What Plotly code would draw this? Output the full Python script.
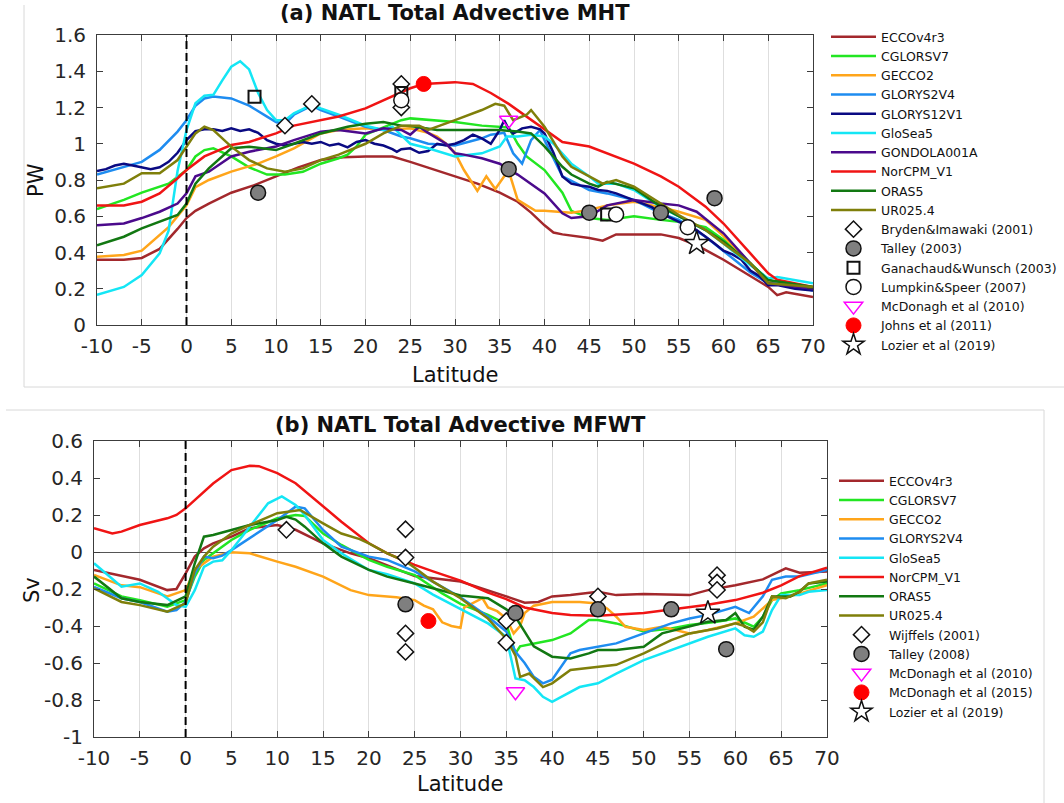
import plotly.graph_objects as go

# ---------------- Panel (a): MHT (PW) ----------------
ECCO_A_LAT = [-10,-7,-5,-3,-1,0,1,2.5,5,7.5,10,12.5,15,17.5,20,23,25,27.5,30,32.5,35,37,38.5,40,41,42,45,46.5,48,50,53,55,57,60,63,65,66,67,70]
ECCO_A = [0.36,0.36,0.37,0.42,0.53,0.59,0.63,0.67,0.73,0.77,0.82,0.87,0.91,0.925,0.93,0.93,0.90,0.86,0.82,0.78,0.73,0.68,0.62,0.55,0.51,0.50,0.48,0.465,0.50,0.50,0.50,0.48,0.44,0.36,0.27,0.21,0.165,0.18,0.155]

CGLO_A_LAT = [-10,-7,-5,-2,0,1,2,3,5,7,9,11,13,15,17,18,19,20,22,24,25,27.5,30,33,35,36,37,38,40,42,43,45,47,50,53,55,58,60,63,65,66,70]
CGLO_A = [0.64,0.69,0.73,0.78,0.855,0.93,0.965,0.975,0.93,0.87,0.83,0.83,0.845,0.89,0.92,0.94,0.985,1.05,1.09,1.13,1.14,1.13,1.12,1.10,1.095,1.09,1.0,0.93,0.855,0.73,0.63,0.59,0.58,0.60,0.58,0.57,0.54,0.47,0.34,0.25,0.23,0.21]

GECCO_A_LAT = [-10,-7,-5,-2,0,1,2.5,5,8,10,12,15,17,20,22,25,27,28,29,30,31,32.5,33.5,34.5,35.5,36,37,39,40,43,45,47,50,53,55,58,60,63,65,70]
GECCO_A = [0.377,0.386,0.41,0.54,0.66,0.76,0.80,0.846,0.89,0.93,0.975,1.057,1.076,1.085,1.076,1.085,1.06,1.04,1.0,0.95,0.855,0.74,0.82,0.75,0.82,0.85,0.69,0.63,0.63,0.62,0.635,0.66,0.68,0.65,0.625,0.58,0.49,0.34,0.24,0.20]

G2V4_A_LAT = [-10,-7,-5,-3,-1,0,1,2,3,5,7,9,10,11,12,14,15,17,20,22,24,25,27,30,33,34,35,35.5,36.5,37.5,38.5,39.5,40,42,44,45,47,50,53,55,58,60,63,65,66,70]
G2V4_A = [0.83,0.87,0.90,0.966,1.067,1.13,1.21,1.25,1.26,1.25,1.21,1.15,1.12,1.11,1.16,1.21,1.186,1.15,1.094,1.076,1.04,1.03,1.0,0.99,1.03,1.05,1.057,1.06,0.947,0.89,1.02,1.076,1.02,0.82,0.77,0.745,0.726,0.69,0.616,0.58,0.487,0.41,0.29,0.23,0.235,0.19]

G12_A_LAT = [-10,-9,-8,-7,-6,-5,-4,-3,-2,-1,0,1,2,3,4,5,6,7,8,9,10,11,12,13,14,15,16,17,18,19,20,21,22,23,23.5,24,25,26,27,28,29,30,31,32,33,34,35,35.5,36,36.5,37,37.5,38.5,39.5,40,41,42,43,44,45,46,47,48,50,52,53,55,57,59,60,61,62,63,64,65,66,68,70]
G12_A = [0.85,0.86,0.88,0.89,0.88,0.87,0.86,0.87,0.90,0.95,1.02,1.07,1.08,1.08,1.07,1.085,1.07,1.08,1.06,1.02,1.0,0.99,1.0,1.01,1.0,1.01,0.99,1.0,0.98,1.01,1.02,1.0,0.99,0.97,0.955,0.97,0.975,0.95,0.96,1.0,0.99,1.0,1.02,1.05,1.03,1.0,1.076,1.13,1.08,1.057,1.07,1.085,1.094,1.08,1.057,0.95,0.82,0.78,0.77,0.763,0.745,0.74,0.726,0.69,0.65,0.616,0.57,0.524,0.45,0.41,0.39,0.36,0.30,0.27,0.22,0.22,0.20,0.19]

GLOSEA_A_LAT = [-10,-7,-5,-3,-2,-1,0,1,2,3,4,5,6,7,8,9,10,11,12,14,15,17,20,22,23,25,27,30,33,35,35.8,37,38.5,40,41,43,45,46,48,50,53,55,58,60,63,65,66,70]
GLOSEA_A = [0.166,0.21,0.276,0.395,0.52,0.85,1.076,1.223,1.265,1.27,1.35,1.425,1.455,1.41,1.28,1.186,1.13,1.13,1.168,1.214,1.195,1.16,1.10,1.076,1.094,1.0,0.975,0.93,0.947,0.985,1.04,1.04,1.05,1.04,1.0,0.89,0.82,0.78,0.78,0.745,0.65,0.60,0.524,0.45,0.33,0.257,0.265,0.23]

GOND_A_LAT = [-10,-7,-5,-3,-1,0,1,2.5,5,7,10,12,15,17,20,22,24,25,26,27,29,30,31,33,35,37,40,42,43,45,47,50,53,55,57,60,63,65,70]
GOND_A = [0.55,0.56,0.59,0.625,0.67,0.726,0.82,0.846,0.93,0.956,0.985,1.02,1.067,1.076,1.057,1.085,1.076,1.05,1.094,1.06,1.0,0.947,0.94,0.92,0.89,0.83,0.726,0.616,0.59,0.60,0.66,0.69,0.67,0.66,0.625,0.506,0.34,0.23,0.20]

NOR_A_LAT = [-10,-7,-5,-3,-1,0,2,5,7,10,12,15,17,20,22,24,25,26.5,28,30,32,34,36,38,40,42,45,48,50,53,55,58,60,63,65,66,70]
NOR_A = [0.66,0.66,0.68,0.726,0.81,0.855,0.93,0.993,1.01,1.057,1.10,1.13,1.15,1.195,1.24,1.287,1.306,1.33,1.335,1.34,1.33,1.28,1.22,1.15,1.076,1.01,0.985,0.93,0.89,0.82,0.763,0.653,0.56,0.395,0.285,0.25,0.21]

ORAS_A_LAT = [-10,-7,-5,-3,-1,0,1,2.5,5,7,10,12,15,18,20,22,24,25,28,30,33,35,37,38.5,40,42,43,45,46,47,50,53,55,58,60,63,65,70]
ORAS_A = [0.44,0.487,0.533,0.57,0.607,0.67,0.78,0.864,0.975,0.984,0.965,1.0,1.057,1.094,1.11,1.12,1.10,1.098,1.076,1.076,1.076,1.076,1.067,1.057,0.985,0.873,0.83,0.78,0.763,0.79,0.754,0.653,0.60,0.524,0.46,0.34,0.248,0.21]

UR_A_LAT = [-10,-7,-5,-3,-1,0,1,2,3,5,7,9,11,13,15,17,20,22,24,26,27,30,33,34.5,35.5,36.5,38,38.5,40,42,43,45,46.5,48,50,53,55,58,60,63,65,70]
UR_A = [0.754,0.78,0.837,0.837,0.91,0.984,1.057,1.094,1.076,0.984,0.91,0.864,0.846,0.864,0.91,0.94,1.0,1.057,1.10,1.10,1.076,1.13,1.186,1.22,1.21,1.13,1.16,1.186,1.094,0.93,0.873,0.82,0.78,0.80,0.763,0.67,0.607,0.524,0.45,0.34,0.23,0.21]

# observations (a)
BRYDEN_LAT = [11, 14, 24, 24]
BRYDEN_PW = [1.10, 1.22, 1.33, 1.20]
TALLEY03_LAT = [8, 36, 45, 53, 59]
TALLEY03_PW = [0.73, 0.86, 0.62, 0.62, 0.70]
GANA_LAT = [7.6, 24, 47]
GANA_PW = [1.26, 1.28, 0.61]
LUMPKIN_LAT = [24, 48, 56]
LUMPKIN_PW = [1.24, 0.61, 0.54]
MCD10_A_LAT = [36]
MCD10_A_PW = [1.13]
JOHNS_LAT = [26.5]
JOHNS_PW = [1.33]
LOZIER_A_LAT = [57]
LOZIER_A_PW = [0.45]

# ---------------- Panel (b): MFWT (Sv) ----------------
ECCO_B_LAT = [-10,-7,-5,-2,-1,0,1,2,3,5,7,10,12,15,18,20,25,30,33,35,37,38.5,40,42,45,47,50,55,57,60,63,65.5,67,70]
ECCO_B = [-0.097,-0.13,-0.15,-0.206,-0.2,-0.115,-0.025,0.02,0.047,0.083,0.128,0.146,0.12,0.047,-0.007,-0.034,-0.13,-0.16,-0.206,-0.24,-0.274,-0.27,-0.24,-0.233,-0.215,-0.233,-0.227,-0.233,-0.206,-0.18,-0.148,-0.088,-0.112,-0.106]

CGLO_B_LAT = [-10,-7,-5,-2,0,1,2,3,5,7,10,12,13,15,17,20,22,25,28,30,33,35,36,36.5,38,40,42,44,45,47,50,53,55,58,60,61,62,63,64,65,67,70]
CGLO_B = [-0.17,-0.24,-0.26,-0.296,-0.26,-0.133,-0.043,-0.007,0.065,0.12,0.182,0.2,0.195,0.10,0.038,-0.043,-0.08,-0.125,-0.224,-0.28,-0.34,-0.39,-0.548,-0.51,-0.494,-0.476,-0.44,-0.368,-0.368,-0.386,-0.43,-0.413,-0.395,-0.377,-0.359,-0.38,-0.404,-0.35,-0.26,-0.224,-0.206,-0.17]

GECCO_B_LAT = [-10,-7,-5,-2,0,1,2,3,5,7,10,12,15,18,20,22,23,25,26,27,28,29,30,30.4,31.5,32.4,33,34,35,35.8,36.5,37,38,40,43,45,46,47,48,50,52,55,57,60,62,64,66,70]
GECCO_B = [-0.124,-0.18,-0.19,-0.24,-0.206,-0.097,-0.061,-0.025,-0.002,-0.007,-0.052,-0.08,-0.133,-0.206,-0.233,-0.24,-0.245,-0.26,-0.29,-0.31,-0.38,-0.40,-0.41,-0.30,-0.27,-0.25,-0.30,-0.32,-0.36,-0.44,-0.40,-0.33,-0.29,-0.27,-0.27,-0.278,-0.305,-0.35,-0.404,-0.422,-0.404,-0.44,-0.422,-0.386,-0.35,-0.26,-0.24,-0.18]

G2V4_B_LAT = [-10,-7,-5,-2,-1,0,1,2,3,4,5,7,10,12,13,15,17,20,22,25,27,30,33,35,36,37,38,39,40,41,42,43,45,47,50,53,55,57,60,61.5,63,64,65.5,67,70]
G2V4_B = [-0.188,-0.25,-0.27,-0.323,-0.314,-0.27,-0.115,-0.025,-0.034,-0.02,0.01,0.074,0.173,0.245,0.236,0.119,0.029,-0.025,-0.043,-0.105,-0.16,-0.245,-0.35,-0.43,-0.54,-0.60,-0.675,-0.71,-0.69,-0.62,-0.548,-0.53,-0.512,-0.494,-0.44,-0.386,-0.359,-0.34,-0.296,-0.33,-0.24,-0.15,-0.133,-0.133,-0.097]

GLOSEA_B_LAT = [-10,-7,-5,-3,-1,0,1,2,3,4,5,7,9,10.5,12,13,15,17,20,22,25,27,30,33,35,36,37,38,39,40,41,43,45,47,50,53,55,57,60,61,62,63,64,65,67,68,70]
GLOSEA_B = [-0.061,-0.188,-0.17,-0.215,-0.287,-0.296,-0.206,-0.08,-0.052,-0.045,0.01,0.137,0.263,0.30,0.254,0.2,0.065,-0.007,-0.097,-0.12,-0.17,-0.23,-0.31,-0.386,-0.458,-0.684,-0.693,-0.73,-0.783,-0.81,-0.783,-0.73,-0.71,-0.657,-0.584,-0.53,-0.494,-0.458,-0.413,-0.45,-0.458,-0.43,-0.314,-0.233,-0.233,-0.215,-0.206]

NOR_B_LAT = [-10,-8,-7,-5,-2,-1,0,1,3,5,7,8,10,12,15,17,20,22,24,25,27,30,33,35,37,40,42,45,50,53,55,57,60,63,65,67,70]
NOR_B = [0.128,0.10,0.11,0.146,0.182,0.2,0.236,0.28,0.37,0.443,0.466,0.464,0.426,0.372,0.245,0.164,0.047,-0.007,-0.05,-0.07,-0.105,-0.155,-0.22,-0.255,-0.30,-0.33,-0.34,-0.345,-0.33,-0.31,-0.30,-0.285,-0.26,-0.22,-0.18,-0.13,-0.085]

ORAS_B_LAT = [-10,-7,-5,-2,0,1,2,3,5,7,10,11,12,13,15,17,20,22,25,27,30,33,35,36,37,38,40,42,44,45,47,50,52,55,57,59,60,61,62,63,64,66,67,68,70]
ORAS_B = [-0.133,-0.25,-0.27,-0.287,-0.24,-0.061,0.083,0.092,0.119,0.146,0.173,0.19,0.175,0.137,0.047,-0.025,-0.097,-0.133,-0.17,-0.197,-0.235,-0.25,-0.31,-0.35,-0.43,-0.51,-0.566,-0.575,-0.548,-0.53,-0.53,-0.512,-0.44,-0.404,-0.377,-0.368,-0.33,-0.404,-0.42,-0.35,-0.24,-0.24,-0.215,-0.17,-0.16]

UR_B_LAT = [-10,-7,-5,-2,0,1,2,3,5,7,10,12.5,15,17,19,20,22,24,25,27,30,33,35,36,36.5,37.5,39,40,42,45,47,50,53,55,58,60,61,62,63,64,65.5,67,68,70]
UR_B = [-0.197,-0.27,-0.287,-0.323,-0.278,-0.097,-0.025,0.029,0.10,0.146,0.21,0.227,0.155,0.10,0.07,0.047,-0.007,-0.05,-0.085,-0.16,-0.25,-0.36,-0.47,-0.56,-0.675,-0.657,-0.73,-0.71,-0.638,-0.62,-0.61,-0.548,-0.476,-0.44,-0.413,-0.386,-0.40,-0.43,-0.38,-0.24,-0.25,-0.215,-0.17,-0.15]

# observations (b)
WIJ_LAT = [11, 24, 24, 24, 24, 35, 35, 45, 58, 58, 58]
WIJ_SV = [0.12, 0.123, -0.03, -0.44, -0.54, -0.373, -0.49, -0.24, -0.125, -0.165, -0.205]
TALLEY08_LAT = [24, 36, 45, 53, 59]
TALLEY08_SV = [-0.283, -0.33, -0.31, -0.31, -0.525]
MCD10_B_LAT = [36]
MCD10_B_SV = [-0.755]
MCD15_LAT = [26.5]
MCD15_SV = [-0.373]
LOZIER_B_LAT = [57]
LOZIER_B_SV = [-0.33]

X_TICKS = list(range(-10, 71, 5))
X_TICKTEXT = [str(v) for v in X_TICKS]
YA_TICKS = [0, 0.2, 0.4, 0.6, 0.8, 1.0, 1.2, 1.4, 1.6]
YA_TICKTEXT = ["0", "0.2", "0.4", "0.6", "0.8", "1", "1.2", "1.4", "1.6"]
YB_TICKS = [-1, -0.8, -0.6, -0.4, -0.2, 0, 0.2, 0.4, 0.6]
YB_TICKTEXT = ["-1", "-0.8", "-0.6", "-0.4", "-0.2", "0", "0.2", "0.4", "0.6"]

COLORS = {
    "ECCOv4r3": "#A3282C",
    "CGLORSV7": "#22E622",
    "GECCO2": "#FFA51A",
    "GLORYS2V4": "#1E8CF0",
    "GLORYS12V1": "#0A0A82",
    "GloSea5": "#14E6F5",
    "GONDOLA001A": "#4B0A8C",
    "NorCPM_V1": "#F01414",
    "ORAS5": "#127812",
    "UR025.4": "#7F7F0A",
}

W, H = 1064, 803
FONT = "DejaVu Sans"


def px2x(p):
    return p / W


def px2y(p):
    return 1 - p / H


fig = go.Figure()

lines_a = [
    ("ECCOv4r3", ECCO_A_LAT, ECCO_A),
    ("CGLORSV7", CGLO_A_LAT, CGLO_A),
    ("GECCO2", GECCO_A_LAT, GECCO_A),
    ("GLORYS2V4", G2V4_A_LAT, G2V4_A),
    ("GLORYS12V1", G12_A_LAT, G12_A),
    ("GloSea5", GLOSEA_A_LAT, GLOSEA_A),
    ("GONDOLA001A", GOND_A_LAT, GOND_A),
    ("NorCPM_V1", NOR_A_LAT, NOR_A),
    ("ORAS5", ORAS_A_LAT, ORAS_A),
    ("UR025.4", UR_A_LAT, UR_A),
]
for name, lat, val in lines_a:
    fig.add_trace(go.Scatter(x=lat, y=val, mode="lines", name=name,
                             line=dict(color=COLORS[name], width=2.5),
                             xaxis="x", yaxis="y", legend="legend"))

lines_b = [
    ("ECCOv4r3", ECCO_B_LAT, ECCO_B),
    ("CGLORSV7", CGLO_B_LAT, CGLO_B),
    ("GECCO2", GECCO_B_LAT, GECCO_B),
    ("GLORYS2V4", G2V4_B_LAT, G2V4_B),
    ("GloSea5", GLOSEA_B_LAT, GLOSEA_B),
    ("NorCPM_V1", NOR_B_LAT, NOR_B),
    ("ORAS5", ORAS_B_LAT, ORAS_B),
    ("UR025.4", UR_B_LAT, UR_B),
]
for name, lat, val in lines_b:
    fig.add_trace(go.Scatter(x=lat, y=val, mode="lines", name=name,
                             line=dict(color=COLORS[name], width=2.5),
                             xaxis="x2", yaxis="y2", legend="legend2"))

BLK = dict(color="#111111", width=1.5)
STY = {
    "diamond": dict(symbol="diamond", size=12.5, color="white", line=BLK),
    "gray": dict(symbol="circle", size=15, color="#7F7F7F", line=BLK),
    "square": dict(symbol="square-open", size=12, color="#111111", line=dict(width=2)),
    "circle": dict(symbol="circle", size=15, color="white", line=BLK),
    "tri": dict(symbol="triangle-down-open", size=16, color="#FF00FF", line=dict(width=1.5)),
    "red": dict(symbol="circle", size=15, color="#FF0000", line=dict(color="#FF0000", width=1)),
    "star": dict(symbol="star", size=18, color="white", line=BLK),
}

obs_a = [
    ("Bryden&Imawaki (2001)", BRYDEN_LAT, BRYDEN_PW, "diamond"),
    ("Talley (2003)", TALLEY03_LAT, TALLEY03_PW, "gray"),
    ("Ganachaud&Wunsch (2003)", GANA_LAT, GANA_PW, "square"),
    ("Lumpkin&Speer (2007)", LUMPKIN_LAT, LUMPKIN_PW, "circle"),
    ("McDonagh et al (2010)", MCD10_A_LAT, MCD10_A_PW, "tri"),
    ("Johns et al (2011)", JOHNS_LAT, JOHNS_PW, "red"),
    ("Lozier et al (2019)", LOZIER_A_LAT, LOZIER_A_PW, "star"),
]
for name, lat, val, s in obs_a:
    fig.add_trace(go.Scatter(x=lat, y=val, mode="markers", name=name, marker=STY[s],
                             xaxis="x", yaxis="y", legend="legend"))

obs_b = [
    ("Wijffels (2001)", WIJ_LAT, WIJ_SV, "diamond"),
    ("Talley (2008)", TALLEY08_LAT, TALLEY08_SV, "gray"),
    ("McDonagh et al (2010)", MCD10_B_LAT, MCD10_B_SV, "tri"),
    ("McDonagh et al (2015)", MCD15_LAT, MCD15_SV, "red"),
    ("Lozier et al (2019)", LOZIER_B_LAT, LOZIER_B_SV, "star"),
]
for name, lat, val, s in obs_b:
    fig.add_trace(go.Scatter(x=lat, y=val, mode="markers", name=name, marker=STY[s],
                             xaxis="x2", yaxis="y2", legend="legend2"))

axis_common = dict(showline=True, linecolor="#3C3C3C", linewidth=1, mirror="ticks",
                   ticks="inside", ticklen=6, tickcolor="#3C3C3C",
                   tickfont=dict(family=FONT, size=20, color="#262626"),
                   automargin=False)

fig.update_layout(
    width=W, height=H, autosize=False,
    margin=dict(l=0, r=0, t=0, b=0, pad=0, autoexpand=False),
    paper_bgcolor="white", plot_bgcolor="white",
    font=dict(family=FONT, color="#262626"),
    xaxis=dict(domain=[px2x(97), px2x(813)], range=[-10, 70], anchor="y",
               tickvals=X_TICKS, ticktext=X_TICKTEXT, showgrid=True, gridcolor="#DEDEDE",
               zeroline=False, ticklabelstandoff=3, **axis_common),
    yaxis=dict(domain=[px2y(325), px2y(35)], range=[0, 1.6], anchor="x",
               tickvals=YA_TICKS, ticktext=YA_TICKTEXT, showgrid=False,
               zeroline=False, ticklabelstandoff=6, **axis_common),
    xaxis2=dict(domain=[px2x(94), px2x(827)], range=[-10, 70], anchor="y2",
                tickvals=X_TICKS, ticktext=X_TICKTEXT, showgrid=True, gridcolor="#DEDEDE",
                zeroline=False, ticklabelstandoff=3, **axis_common),
    yaxis2=dict(domain=[px2y(737), px2y(441)], range=[-1, 0.6], anchor="x2",
                tickvals=YB_TICKS, ticktext=YB_TICKTEXT, showgrid=False,
                zeroline=True, zerolinecolor="#555555", zerolinewidth=1,
                ticklabelstandoff=6, **axis_common),
    legend=dict(x=px2x(826), y=px2y(22), xanchor="left", yanchor="top",
                font=dict(family=FONT, size=12.5, color="#111111"),
                bgcolor="rgba(0,0,0,0)", itemwidth=45, tracegroupgap=0),
    legend2=dict(x=px2x(834), y=px2y(466), xanchor="left", yanchor="top",
                 font=dict(family=FONT, size=12.5, color="#111111"),
                 bgcolor="rgba(0,0,0,0)", itemwidth=45, tracegroupgap=0),
    showlegend=True,
)

# dashed equator lines
fig.add_shape(type="line", xref="x", yref="y domain", x0=0, x1=0, y0=0, y1=1,
              line=dict(color="black", width=2, dash="8px,4px"), layer="above")
fig.add_shape(type="line", xref="x2", yref="y2 domain", x0=0, x1=0, y0=0, y1=1,
              line=dict(color="black", width=2, dash="8px,4px"), layer="above")

# faint panel frames
frame = dict(color="#D8D8D8", width=1)
fig.add_shape(type="line", xref="paper", yref="paper", x0=px2x(24), x1=px2x(24), y0=px2y(5), y1=px2y(387), line=frame)
fig.add_shape(type="line", xref="paper", yref="paper", x0=px2x(24), x1=1, y0=px2y(387), y1=px2y(387), line=frame)
fig.add_shape(type="line", xref="paper", yref="paper", x0=px2x(6), x1=px2x(1044), y0=px2y(410), y1=px2y(410), line=frame)
fig.add_shape(type="line", xref="paper", yref="paper", x0=px2x(1044), x1=px2x(1044), y0=px2y(410), y1=0, line=frame)

# titles and axis titles
ann = [
    dict(text="<b>(a) NATL Total Advective MHT</b>", x=px2x(455), y=px2y(13), size=21),
    dict(text="<b>(b) NATL Total Advective MFWT</b>", x=px2x(460), y=px2y(425), size=21),
    dict(text="Latitude", x=px2x(455), y=px2y(375), size=21),
    dict(text="Latitude", x=px2x(460), y=px2y(784), size=21),
]
for a in ann:
    fig.add_annotation(text=a["text"], x=a["x"], y=a["y"], xref="paper", yref="paper",
                       showarrow=False, xanchor="center", yanchor="middle",
                       font=dict(family=FONT, size=a["size"], color="#111111"))
fig.add_annotation(text="PW", x=px2x(36), y=px2y(180), xref="paper", yref="paper",
                   showarrow=False, textangle=-90, xanchor="center", yanchor="middle",
                   font=dict(family=FONT, size=21, color="#111111"))
fig.add_annotation(text="Sv", x=px2x(32), y=px2y(590), xref="paper", yref="paper",
                   showarrow=False, textangle=-90, xanchor="center", yanchor="middle",
                   font=dict(family=FONT, size=21, color="#111111"))

fig.write_html("out.html")
